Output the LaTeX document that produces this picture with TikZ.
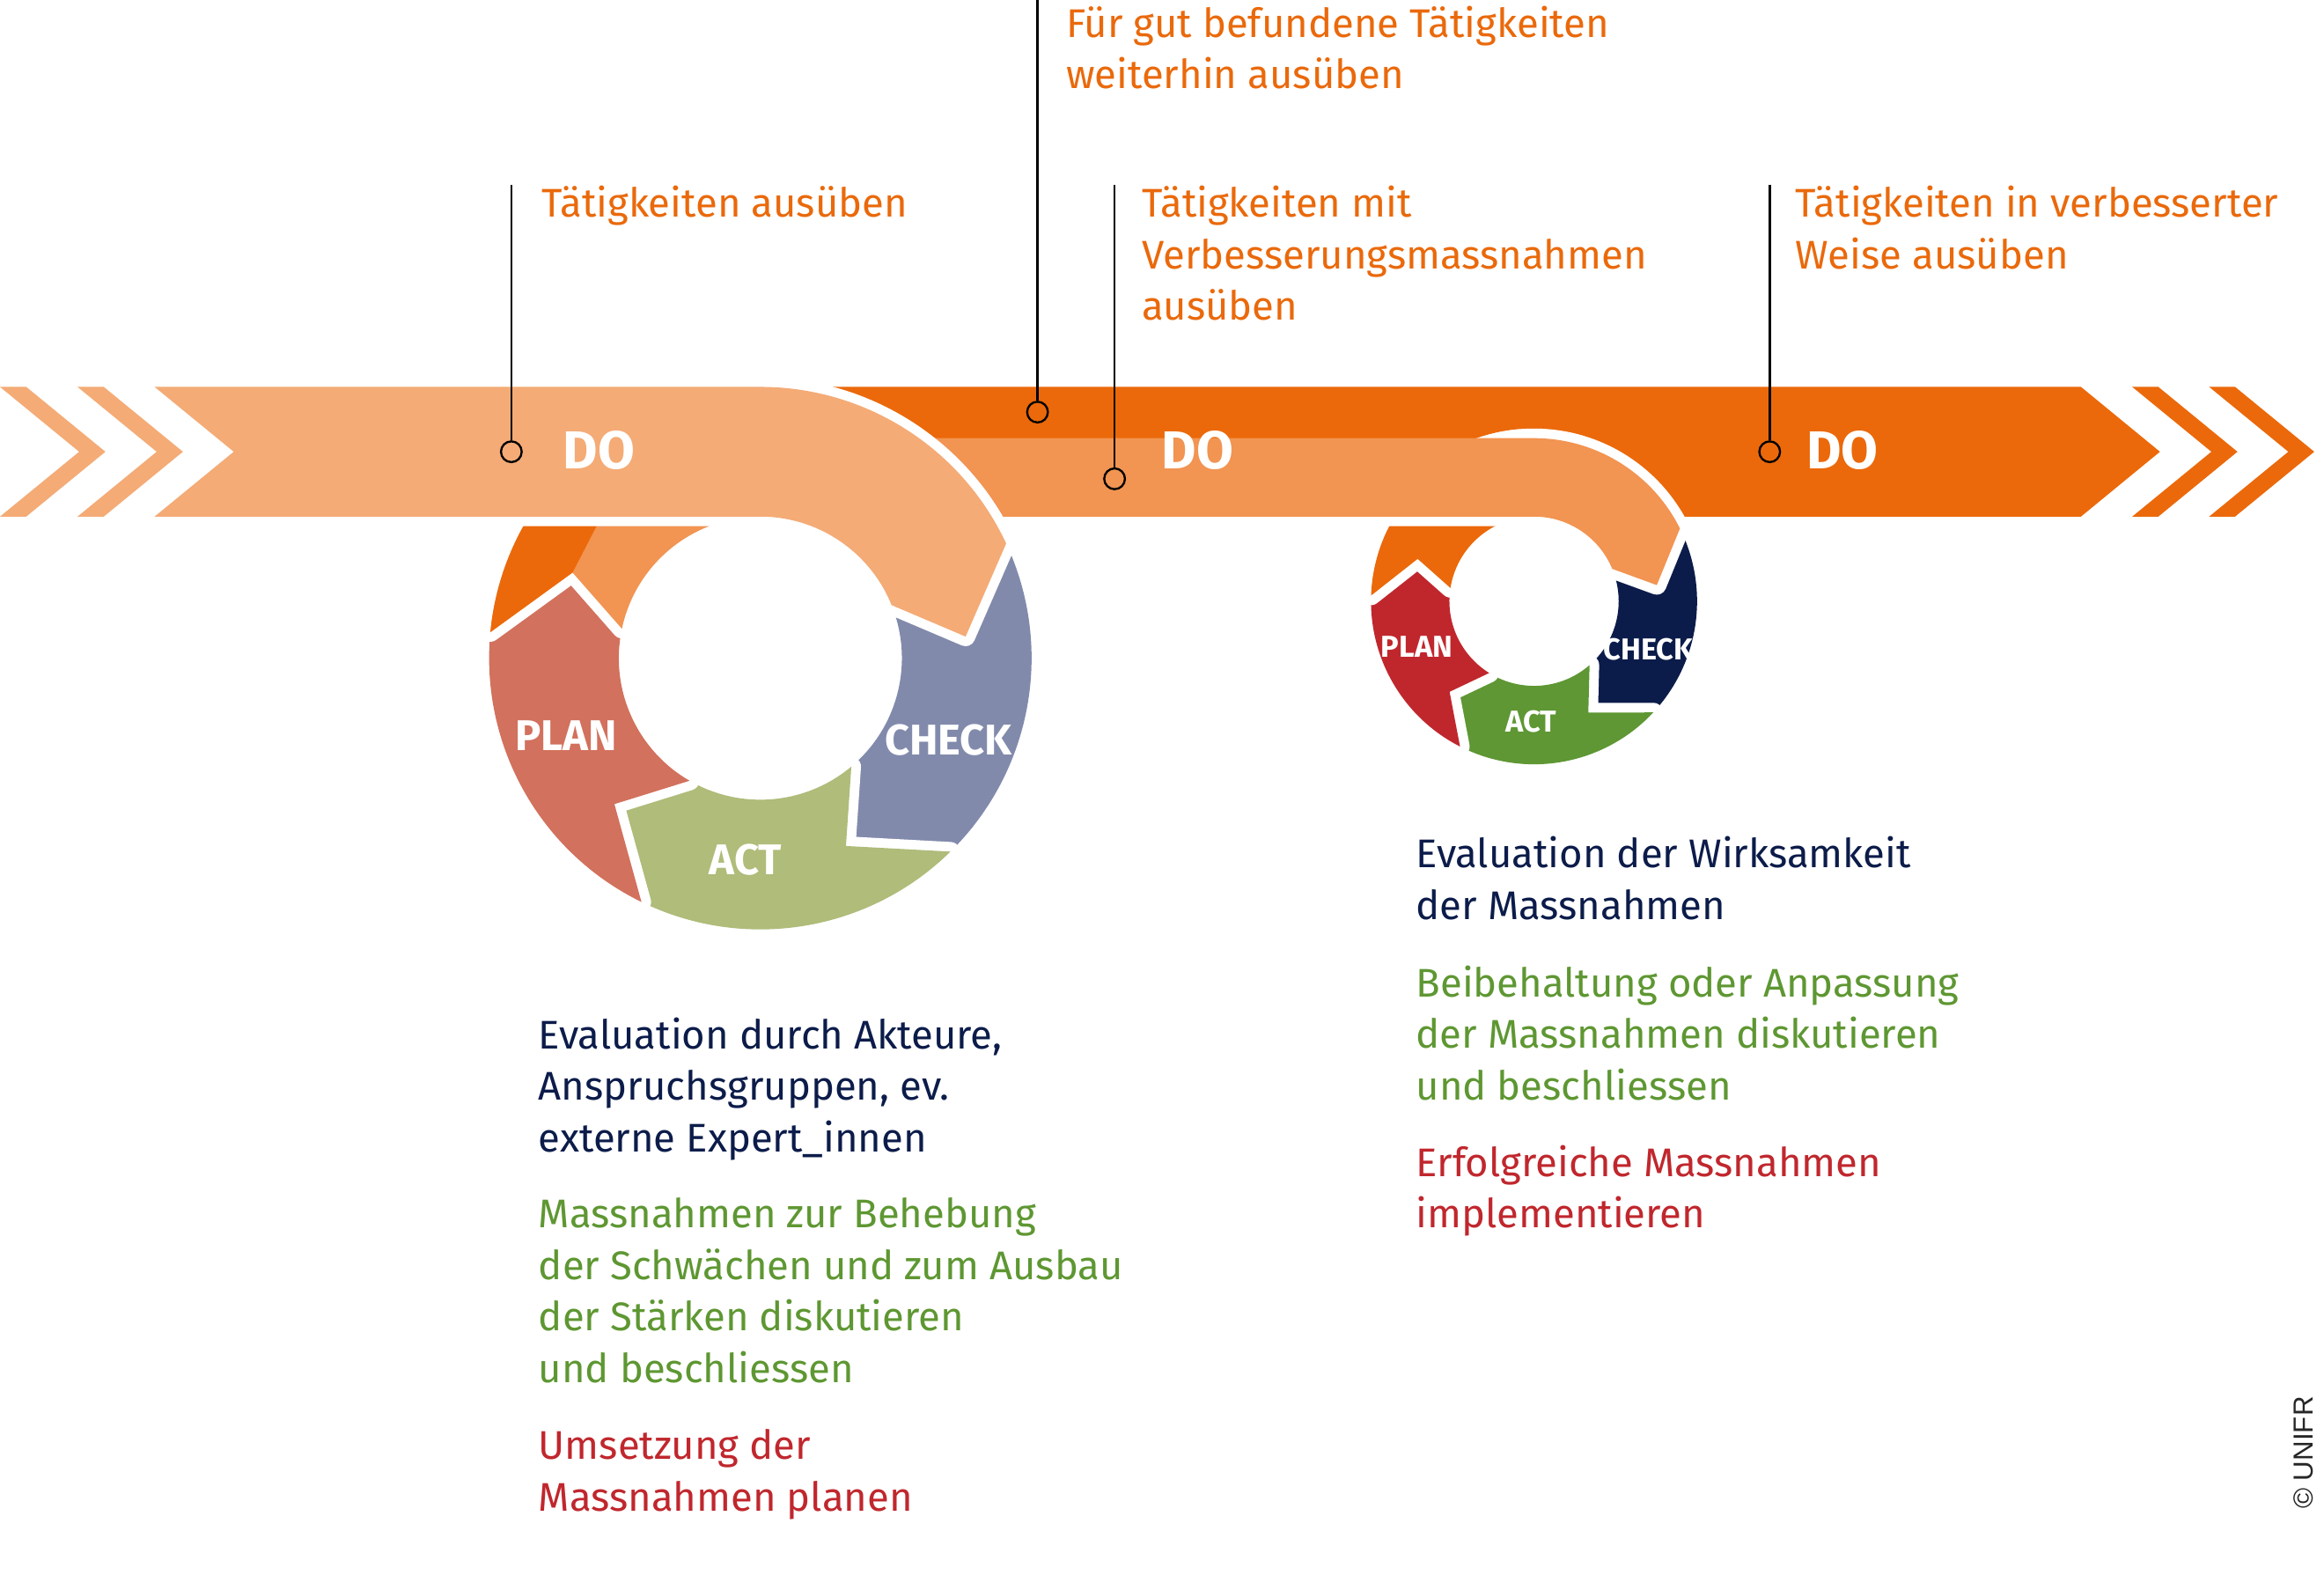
\documentclass[tikz,border=0pt]{standalone}
\usepackage{fontspec}
\setmainfont{Fira Sans}
\newfontfamily\arialfont{Liberation Sans}
\usetikzlibrary{calc}
\definecolor{peach}{HTML}{F4AB76}
\definecolor{midor}{HTML}{F29452}
\definecolor{darkor}{HTML}{EB690B}
\definecolor{chkA}{HTML}{828AAC}
\definecolor{actA}{HTML}{AFBC7A}
\definecolor{planA}{HTML}{D2715D}
\definecolor{chkB}{HTML}{0C1C4A}
\definecolor{actB}{HTML}{5E9733}
\definecolor{planB}{HTML}{C0272D}
\definecolor{txtor}{HTML}{EA690B}
\definecolor{txtnavy}{HTML}{0C1C4A}
\definecolor{txtgreen}{HTML}{5E9732}
\definecolor{txtred}{HTML}{C0272D}
% ring segment: #1 centre, #2 R, #3 r, #4 outer start, #5 inner start, #6 notch angle, #7 outer end, #8 inner end, #9 tip angle
\newcommand\segp[9]{($(#1)+(#4:#2)$) arc[start angle=#4,end angle=#7,radius=#2] -- ($(#1)+(#9:{(#2+#3)/2})$) -- ($(#1)+(#8:#3)$) arc[start angle=#8,end angle=#5,radius=#3] -- ($(#1)+(#6:{(#2+#3)/2})$) -- cycle}
\tikzset{
  knock/.style={preaction={draw=white,fill=white,line width=6.5pt,line join=round}},
  txt/.style={anchor=base west,inner sep=0pt,font=\fontsize{13.5}{17.35}\selectfont},
  lblbig/.style={inner sep=0pt,text=white,font=\bfseries\fontsize{18}{20}\selectfont},
  lblA/.style={inner sep=0pt,text=white,font=\bfseries\fontsize{14.5}{16}\selectfont},
  lblB/.style={inner sep=0pt,text=white,font=\bfseries\fontsize{10.2}{12}\selectfont},
  pinc/.style={circle,draw=black,line width=0.7pt,minimum size=7pt,inner sep=0pt},
  pinl/.style={draw=black,line width=0.7pt}
}
\begin{document}
\begin{tikzpicture}[x=0.5pt,y=-0.5pt]
\fill[white] (0,0) rectangle (1568,1062);
\useasboundingbox (0,0) rectangle (1568,1062);
\coordinate (C1) at (513,444);
\coordinate (C2) at (1035,405.6);
% left chevrons
\fill[peach] (0,261) -- (17.7,261) -- (71.1,304.75) -- (17.7,348.5) -- (0,348.5) -- (53.4,304.75) -- cycle;
\fill[peach] (52.3,261) -- (70,261) -- (123.4,304.75) -- (70,348.5) -- (52.3,348.5) -- (105.7,304.75) -- cycle;
% right chevrons
\fill[darkor] (1438.6,261) -- (1456.2,261) -- (1509.6,304.75) -- (1456.2,348.5) -- (1438.6,348.5) -- (1492,304.75) -- cycle;
\fill[darkor] (1490.5,261) -- (1508,261) -- (1561.4,304.75) -- (1508,348.5) -- (1490.5,348.5) -- (1543.9,304.75) -- cycle;
% dark band
\fill[darkor] (540,261) -- (1404,261) -- (1457.3,304.75) -- (1404,348.5) -- (610,348.5) -- cycle;
% ring 2
\path[knock,fill=chkB] \segp{C2}{110}{57.1}{-26.5}{-22.5}{-7.5}{43}{49}{64};
\path[knock,fill=actB] \segp{C2}{110}{57.1}{43}{49}{64}{117}{122}{133};
\path[knock,fill=planB] \segp{C2}{110}{57.1}{117}{122}{133}{182}{189}{200};
\path[knock,fill=darkor] ($(C2)+(182:110)$) arc[start angle=182,end angle=265,radius=110] -- ($(C2)+(265:57.1)$) arc[start angle=265,end angle=189,radius=57.1] -- ($(C2)+(200:83.55)$) -- cycle;
% medium band
\draw[white,line width=6.5pt,line join=round] ($(C2)+(-125:110)$) arc[start angle=-125,end angle=-26.5,radius=110] -- ($(C2)+(-7.5:83.55)$) -- ($(C2)+(-22.5:57.1)$) arc[start angle=-22.5,end angle=-90,radius=57.1] -- (610,348.5);
\fill[midor] (610,295.6) -- (1035,295.6) arc[start angle=-90,end angle=-26.5,radius=110] -- ($(C2)+(-7.5:83.55)$) -- ($(C2)+(-22.5:57.1)$) arc[start angle=-22.5,end angle=-90,radius=57.1] -- (610,348.5) -- cycle;
% ring 1
\path[knock,fill=chkA] \segp{C1}{183}{95.5}{-25}{-22}{-6}{45.5}{50}{65.5};
\path[knock,fill=actA] \segp{C1}{183}{95.5}{45.5}{50}{65.5}{116}{120}{135};
\path[knock,fill=planA] \segp{C1}{183}{95.5}{116}{120}{135}{185.5}{192}{204.5};
\path[knock,fill=midor] ($(C1)+(185.5:183)$) arc[start angle=185.5,end angle=265,radius=183] -- ($(C1)+(265:95.5)$) arc[start angle=265,end angle=192,radius=95.5] -- ($(C1)+(204.5:139.25)$) -- cycle;
\fill[darkor] ($(C1)+(185.5:183)$) arc[start angle=185.5,end angle=245,radius=183] -- (405,300) -- (404,352) -- ($(C1)+(204.5:139.25)$) -- cycle;
% light band
\path[knock,fill=peach] (104.3,261) -- (513,261) arc[start angle=-90,end angle=-25,radius=183] -- ($(C1)+(-6:139.25)$) -- ($(C1)+(-22:95.5)$) arc[start angle=-22,end angle=-90,radius=95.5] -- (104.3,348.5) -- (157.7,304.75) -- cycle;
% labels
\node[lblbig] (do1) at (404,304) {DO};
\node[lblbig] (do2) at (808,304) {DO};
\node[lblbig] (do3) at (1243,304) {DO};
\node[lblA] (plan1) at (382,496) {PLAN};
\node[lblA] (check1) at (640,499) {CHECK};
\node[lblA] (act1) at (503,580) {ACT};
\node[lblB] (plan2) at (956,436) {PLAN};
\node[lblB] (check2) at (1112,438) {CHECK};
\node[lblB] (act2) at (1033,487) {ACT};
% pins
\node[pinc] (p1) at (345,304.75) {};
\coordinate (p1t) at (345,125);
\draw[pinl] (p1t) -- (p1);
\node[pinc] (p2) at (700,278) {};
\coordinate (p2t) at (700,0);
\draw[pinl] (p2t) -- (p2);
\node[pinc] (p3) at (752,323) {};
\coordinate (p3t) at (752,125);
\draw[pinl] (p3t) -- (p3);
\node[pinc] (p4) at (1194,304.75) {};
\coordinate (p4t) at (1194,125);
\draw[pinl] (p4t) -- (p4);
% texts
\node[txt,text=txtor] (ta) at (719,25) {\vtop{\hbox{Für gut befundene Tätigkeiten}\hbox{weiterhin ausüben}}};
\node[txt,text=txtor] (tb) at (365,146.5) {Tätigkeiten ausüben};
\node[txt,text=txtor] (tc) at (770,146.5) {\vtop{\hbox{Tätigkeiten mit}\hbox{Verbesserungsmassnahmen}\hbox{ausüben}}};
\node[txt,text=txtor] (td) at (1211,146.5) {\vtop{\hbox{Tätigkeiten in verbesserter}\hbox{Weise ausüben}}};
\node[txt,text=txtnavy] (te) at (363,707.5) {\vtop{\hbox{Evaluation durch Akteure,}\hbox{Anspruchsgruppen, ev.}\hbox{externe Expert\_innen}}};
\node[txt,text=txtgreen] (tf) at (363,828.5) {\vtop{\hbox{Massnahmen zur Behebung}\hbox{der Schwächen und zum Ausbau}\hbox{der Stärken diskutieren}\hbox{und beschliessen}}};
\node[txt,text=txtred] (tg) at (363,984.5) {\vtop{\hbox{Umsetzung der}\hbox{Massnahmen planen}}};
\node[txt,text=txtnavy] (th) at (955,585.5) {\vtop{\hbox{Evaluation der Wirksamkeit}\hbox{der Massnahmen}}};
\node[txt,text=txtgreen] (ti) at (955,672.5) {\vtop{\hbox{Beibehaltung oder Anpassung}\hbox{der Massnahmen diskutieren}\hbox{und beschliessen}}};
\node[txt,text=txtred] (tj) at (955,793.5) {\vtop{\hbox{Erfolgreiche Massnahmen}\hbox{implementieren}}};
\node[rotate=90,inner sep=0pt,text=black!85,font=\arialfont\fontsize{9.3}{11}\selectfont] (copy) at (1554,980) {© UNIFR};
\end{tikzpicture}
\end{document}
